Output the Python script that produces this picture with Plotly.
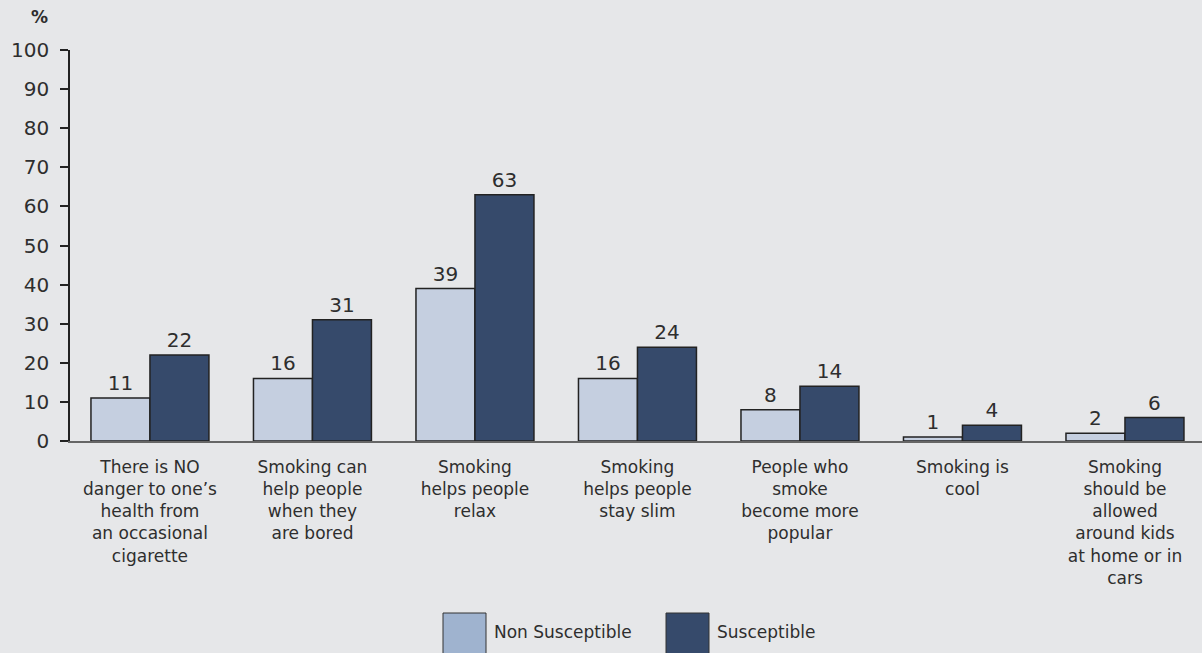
import plotly.graph_objects as go

# Survey statements (category labels, wrapped for display)
categories = [
    "There is NO<br>danger to one’s<br>health from<br>an occasional<br>cigarette",
    "Smoking can<br>help people<br>when they<br>are bored",
    "Smoking<br>helps people<br>relax",
    "Smoking<br>helps people<br>stay slim",
    "People who<br>smoke<br>become more<br>popular",
    "Smoking is<br>cool",
    "Smoking<br>should be<br>allowed<br>around kids<br>at home or in<br>cars",
]
non_susceptible = [11, 16, 39, 16, 8, 1, 2]
susceptible = [22, 31, 63, 24, 14, 4, 6]
y_ticks = [0, 10, 20, 30, 40, 50, 60, 70, 80, 90, 100]

BG = "#e6e7e9"
LIGHT = "#c5cfe0"
LIGHT_KEY = "#9fb3cf"
DARK = "#364a6b"
EDGE = "#222222"
TEXT = "#2e2e2e"
FONT = "DejaVu Sans, Verdana, sans-serif"

# Plot-area geometry in pixels (used for the hand-drawn legend)
W, H = 1202, 653
L, R, T, B = 70, 0, 50, 212
PW, PH = W - L - R, H - T - B


def px_to_paper(px, py):
    return (px - L) / PW, (H - B - py) / PH


fig = go.Figure()
for name, vals, color in [("Non Susceptible", non_susceptible, LIGHT),
                          ("Susceptible", susceptible, DARK)]:
    fig.add_trace(go.Bar(
        x=list(range(len(categories))), y=vals, name=name,
        marker=dict(color=color, line=dict(color=EDGE, width=1.5)),
        text=[str(v) for v in vals], textposition="outside",
        textfont=dict(size=20, color=TEXT, family=FONT),
        cliponaxis=False, showlegend=False,
    ))

fig.update_layout(
    width=W, height=H,
    margin=dict(l=L, r=R, t=T, b=B, pad=0),
    paper_bgcolor=BG, plot_bgcolor=BG,
    barmode="group", bargap=0.274, bargroupgap=0,
    font=dict(family=FONT, color=TEXT),
    xaxis=dict(
        tickmode="array", tickvals=list(range(len(categories))),
        ticktext=categories, range=[-0.492, 6.474],
        showline=True, linecolor="#666666", linewidth=1.5,
        showgrid=False, zeroline=False, ticks="",
        tickfont=dict(size=17, color=TEXT, family=FONT),
        ticklabelstandoff=10,
    ),
    yaxis=dict(
        range=[0, 100], tickvals=y_ticks,
        showline=True, linecolor=EDGE, linewidth=1.5,
        showgrid=False, zeroline=False,
        ticks="outside", ticklen=8, tickwidth=1.5, tickcolor=EDGE,
        tickfont=dict(size=20, color=TEXT, family=FONT),
        ticklabelstandoff=7,
    ),
)

# Axis unit label
ux, uy = px_to_paper(39, 17)
fig.add_annotation(x=ux, y=uy, xref="paper", yref="paper", text="<b>%</b>",
                   showarrow=False, font=dict(size=17, color=TEXT, family=FONT),
                   xanchor="center", yanchor="middle")

# Legend drawn below the chart
legend_items = [("Non Susceptible", LIGHT_KEY, 443), ("Susceptible", DARK, 666)]
for label, color, sx in legend_items:
    x0, y0 = px_to_paper(sx, 656)
    x1, y1 = px_to_paper(sx + 43, 613)
    fig.add_shape(type="rect", xref="paper", yref="paper", x0=x0, x1=x1, y0=y0, y1=y1,
                  fillcolor=color, line=dict(color="#333333", width=1))
    tx, ty = px_to_paper(sx + 49, 632)
    fig.add_annotation(x=tx, y=ty, xref="paper", yref="paper", text=label,
                       showarrow=False, xanchor="left", yanchor="middle",
                       font=dict(size=17, color=TEXT, family=FONT))

fig.write_html("out.html")
